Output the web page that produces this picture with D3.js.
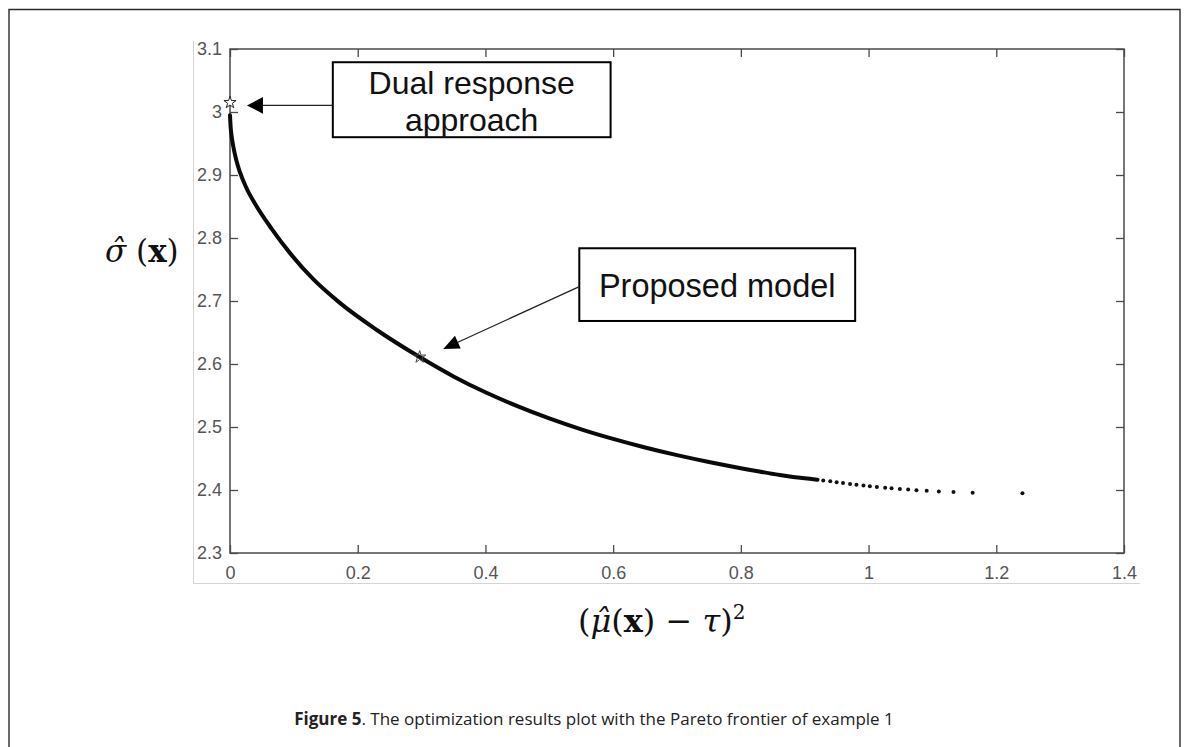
<!DOCTYPE html>
<html>
<head>
<meta charset="utf-8">
<script src="https://cdn.jsdelivr.net/npm/d3@7"></script>
<style>
  body { margin: 0; background: #fff; }
  svg { display: block; }
</style>
</head>
<body>
<svg id="chart" width="1189" height="747"></svg>
<script>
// Axis ticks
const xTicks = [0, 0.2, 0.4, 0.6, 0.8, 1, 1.2, 1.4];
const yTicks = [2.3, 2.4, 2.5, 2.6, 2.7, 2.8, 2.9, 3.0, 3.1];

// Pareto frontier: densely packed solutions (drawn as a continuous band)
const frontierX = [0, 0.001, 0.0025, 0.005, 0.01, 0.0157, 0.025, 0.0418, 0.065, 0.094, 0.13, 0.172, 0.23,
                   0.297, 0.35, 0.40, 0.45, 0.50, 0.55, 0.60, 0.65, 0.70, 0.75, 0.80, 0.861, 0.90, 0.92];
const frontierY = [2.995, 2.976, 2.962, 2.946, 2.923, 2.904, 2.881, 2.850, 2.815, 2.776, 2.735, 2.697, 2.654,
                   2.611, 2.5803, 2.5551, 2.5331, 2.5136, 2.4963, 2.4811, 2.4675, 2.4553, 2.4444, 2.4346, 2.4239, 2.4185, 2.4163];

// Pareto frontier: sparse solutions at the low-variance end
const tailX = [0.929, 0.940, 0.950, 0.960, 0.971, 0.981, 0.992, 1.002, 1.013, 1.026, 1.036, 1.049,
               1.062, 1.075, 1.091, 1.110, 1.133, 1.163, 1.241];
const tailY = [2.4152, 2.4138, 2.4124, 2.4110, 2.4097, 2.4084, 2.4070, 2.4058, 2.4047, 2.4036, 2.4026, 2.4016,
               2.4006, 2.3998, 2.3988, 2.3978, 2.3968, 2.3958, 2.3947];

// Highlighted solutions
const dualResponse = { x: 0, y: 3.015 };
const proposedModel = { x: 0.297, y: 2.611 };

const svg = d3.select("#chart");
const W = 1189, H = 747;

svg.append("rect").attr("width", W).attr("height", H).attr("fill", "#fff");

// Outer frame of the figure panel
svg.append("path")
  .attr("d", `M9,${H + 2} L9,9.5 L1180,9.5 L1180,${H + 2}`)
  .attr("fill", "none")
  .attr("stroke", "#2b2b2b")
  .attr("stroke-width", 1.4);

// Faint edge of the embedded plot image
svg.append("path")
  .attr("d", "M193.5,41 L193.5,583.5 L1140,583.5")
  .attr("fill", "none")
  .attr("stroke", "#d4d4d4")
  .attr("stroke-width", 1);

const x = d3.scaleLinear().domain([0, 1.4]).range([230, 1124]);
const y = d3.scaleLinear().domain([2.3, 3.1]).range([553, 49]);

const axisColor = "#4a4a4a";
const fmt = d3.format("~g");

function styleAxis(g) {
  g.attr("font-family", null).attr("font-size", null);
  g.select(".domain").remove();
  g.selectAll(".tick line").attr("stroke", axisColor).attr("stroke-width", 1.3);
  g.selectAll(".tick text")
    .style("fill", "#555")
    .style("font-family", "'Liberation Sans', Arial, sans-serif")
    .style("font-size", "18px");
}

svg.append("g")
  .attr("transform", `translate(0,${y(2.3)})`)
  .call(d3.axisBottom(x).tickValues(xTicks).tickFormat(fmt).tickSizeInner(-8).tickSizeOuter(0).tickPadding(13))
  .call(styleAxis);

svg.append("g")
  .attr("transform", `translate(0,${y(3.1)})`)
  .call(d3.axisTop(x).tickValues(xTicks).tickFormat("").tickSizeInner(-8).tickSizeOuter(0))
  .call(styleAxis);

svg.append("g")
  .attr("transform", `translate(${x(0)},0)`)
  .call(d3.axisLeft(y).tickValues(yTicks).tickFormat(fmt).tickSizeInner(-8).tickSizeOuter(0).tickPadding(8))
  .call(styleAxis);

svg.append("g")
  .attr("transform", `translate(${x(1.4)},0)`)
  .call(d3.axisRight(y).tickValues(yTicks).tickFormat("").tickSizeInner(-8).tickSizeOuter(0))
  .call(styleAxis);

// Axes box
svg.append("rect")
  .attr("x", x(0)).attr("y", y(3.1))
  .attr("width", x(1.4) - x(0)).attr("height", y(2.3) - y(3.1))
  .attr("fill", "none")
  .attr("stroke", axisColor)
  .attr("stroke-width", 1.5);

// Frontier band
const frontier = frontierX.map((v, i) => [v, frontierY[i]]);
svg.append("path")
  .datum(frontier)
  .attr("d", d3.line().x(d => x(d[0])).y(d => y(d[1])).curve(d3.curveMonotoneX))
  .attr("fill", "none")
  .attr("stroke", "#0a0a0a")
  .attr("stroke-width", 4)
  .attr("stroke-linecap", "round");

// Sparse frontier points
svg.append("g").selectAll("circle")
  .data(tailX.map((v, i) => [v, tailY[i]]))
  .join("circle")
  .attr("cx", d => x(d[0]))
  .attr("cy", d => y(d[1]))
  .attr("r", 2)
  .attr("fill", "#111");

// Star markers
const star = d3.symbol().type(d3.symbolStar).size(46);
svg.append("path")
  .attr("d", star())
  .attr("transform", `translate(${x(dualResponse.x)},${y(dualResponse.y)})`)
  .attr("fill", "#fff")
  .attr("stroke", "#222")
  .attr("stroke-width", 1);
svg.append("path")
  .attr("d", star())
  .attr("transform", `translate(${x(proposedModel.x)},${y(proposedModel.y)})`)
  .attr("fill", "none")
  .attr("stroke", "#444")
  .attr("stroke-width", 1);

// Annotation: arrow from a callout box toward a point
function arrow(x1, y1, x2, y2, len, halfW) {
  const ang = Math.atan2(y2 - y1, x2 - x1);
  const bx = x2 - len * Math.cos(ang), by = y2 - len * Math.sin(ang);
  svg.append("line")
    .attr("x1", x1).attr("y1", y1).attr("x2", bx).attr("y2", by)
    .attr("stroke", "#222").attr("stroke-width", 1.3);
  const px = -Math.sin(ang) * halfW, py = Math.cos(ang) * halfW;
  svg.append("path")
    .attr("d", `M${x2},${y2} L${bx + px},${by + py} L${bx - px},${by - py} Z`)
    .attr("fill", "#000");
}

function callout(x0, y0, x1, y1) {
  svg.append("rect")
    .attr("x", x(x0)).attr("y", y(y0))
    .attr("width", x(x1) - x(x0)).attr("height", y(y1) - y(y0))
    .attr("fill", "#fff")
    .attr("stroke", "#000")
    .attr("stroke-width", 2);
}

const boxFont = "'Liberation Sans', Arial, sans-serif";

// Dual response approach callout
callout(0.161, 3.079, 0.596, 2.960);
arrow(x(0.161), y(3.0105), x(0.0265), y(3.0105), 16, 8.3);
const cx1 = (x(0.161) + x(0.596)) / 2;
const t1 = svg.append("text")
  .attr("text-anchor", "middle")
  .attr("font-family", boxFont)
  .attr("font-size", 32)
  .attr("fill", "#111");
t1.append("tspan").attr("x", cx1).attr("y", 94).text("Dual response");
t1.append("tspan").attr("x", cx1).attr("y", 130.5).text("approach");

// Proposed model callout
callout(0.547, 2.7837, 0.979, 2.6683);
arrow(x(0.547), y(2.7228), x(0.334), y(2.624), 16, 7);
svg.append("text")
  .attr("x", (x(0.547) + x(0.979)) / 2)
  .attr("y", 297)
  .attr("text-anchor", "middle")
  .attr("font-family", boxFont)
  .attr("font-size", 32.5)
  .attr("fill", "#111")
  .text("Proposed model");

// Axis titles (math notation)
const mathFont = "'DejaVu Serif', 'Liberation Serif', serif";
const yTitle = svg.append("text")
  .attr("x", 105).attr("y", 262)
  .attr("font-family", mathFont)
  .attr("font-size", 31)
  .attr("fill", "#111");
yTitle.append("tspan").attr("font-style", "italic").text("σ\u0302");
yTitle.append("tspan").text(" (");
yTitle.append("tspan").attr("font-weight", "bold").text("x");
yTitle.append("tspan").text(")");

const xTitle = svg.append("text")
  .attr("x", 578).attr("y", 632)
  .attr("font-family", mathFont)
  .attr("font-size", 32)
  .attr("fill", "#111");
xTitle.append("tspan").text("(");
xTitle.append("tspan").attr("font-style", "italic").text("μ\u0302");
xTitle.append("tspan").text("(");
xTitle.append("tspan").attr("font-weight", "bold").text("x");
xTitle.append("tspan").text(") \u2212 ");
xTitle.append("tspan").attr("font-style", "italic").text("τ");
xTitle.append("tspan").text(")");
xTitle.append("tspan").attr("font-size", 20).attr("dy", -13).text("2");

// Caption
const cap = svg.append("text")
  .attr("x", 594).attr("y", 725)
  .attr("text-anchor", "middle")
  .attr("font-family", "'Open Sans', 'Noto Sans', sans-serif")
  .attr("font-size", 17)
  .attr("fill", "#222");
cap.append("tspan").attr("font-weight", "bold").text("Figure 5");
cap.append("tspan").text(". The optimization results plot with the Pareto frontier of example 1");
</script>
</body>
</html>
